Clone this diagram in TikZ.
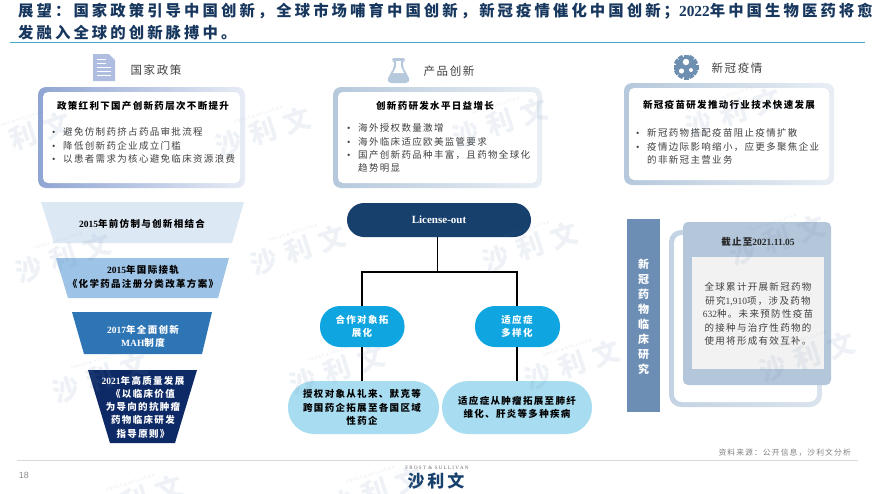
\documentclass[tikz,border=0pt]{standalone}
\usepackage{fontspec}
\setmainfont{Noto Sans CJK SC}[LetterSpace=14]
\newfontfamily\titlefont{Noto Sans CJK SC}[LetterSpace=20]
\newfontfamily\latinfont{Liberation Serif}
\newfontfamily\arialfont{Liberation Sans}
\newcommand{\lat}[1]{{\latinfont\bfseries #1}}
\newcommand{\bul}{\makebox[11pt][l]{\latinfont •}}
\newcommand{\nob}{\hspace*{11pt}}
\newcommand{\cma}{\char"FF0C }
\newcommand{\cln}{\char"FF1A }
\newcommand{\scn}{\char"FF1B }
\definecolor{titleblue}{HTML}{17375E}
\definecolor{ruleblue}{HTML}{45ABCB}
\definecolor{navybox}{HTML}{17406D}
\definecolor{skybox}{HTML}{0EA5E0}
\definecolor{paleblue}{HTML}{A8DCF0}
\definecolor{steelbar}{HTML}{6C8EB4}
\definecolor{cardblue}{HTML}{B4C6D9}
\definecolor{bodygray}{HTML}{404040}
\definecolor{docblue}{HTML}{AFBEE0}
\definecolor{framedeep}{HTML}{8FA5D3}
\definecolor{flaskblue}{HTML}{B5C8DC}
\definecolor{gearblue}{HTML}{6F8FB0}
\usetikzlibrary{positioning}
\tikzset{
    headline/.style={font=\fontsize{15.37}{18}\selectfont\bfseries\titlefont,text=titleblue,anchor=west,inner sep=0pt},
    iconlabel/.style={font=\fontsize{11.5}{13}\selectfont,text=bodygray,inner sep=0pt},
    boxhead/.style={font=\fontsize{9.5}{12}\selectfont\bfseries,text=black,inner sep=0pt},
    bullets/.style={font=\fontsize{9.5}{13.3}\selectfont,text=bodygray,align=left,anchor=north west,inner sep=0pt},
    steptext/.style={font=\fontsize{9.5}{13.3}\selectfont\bfseries,align=center,inner sep=0pt},
    pill/.style={rounded corners=#1,inner sep=0pt},
    link/.style={draw=black,line width=1.2pt},
    watermark/.style={font=\fontsize{27}{27}\selectfont\bfseries,text=steelbar,opacity=0.11,rotate=18,inner sep=0pt},
    wmsmall/.style={font=\fontsize{4}{5}\selectfont\latinfont,text=steelbar,opacity=0.22,rotate=18,inner sep=0pt}
}
\begin{document}
\begin{tikzpicture}[x=1pt,y=-1pt]
\useasboundingbox[fill=white] (0,0) rectangle (875,493);
% title
\node[headline] (title1) at (18,11) {展望\cln 国家政策引导中国创新\cma 全球市场哺育中国创新\cma 新冠疫情催化中国创新\scn \lat{2022}年中国生物医药将愈};
\node[headline] (title2) at (18,33) {发融入全球的创新脉搏中。};
\draw[ruleblue,line width=1pt] (10,42) -- (865,42);
% footer
\draw[black!15,line width=0.8pt] (17,460) -- (858,460);
\node[font=\fontsize{9}{10}\selectfont\arialfont,text=black!45,inner sep=0pt] (pageno) at (24,475) {18};
\node[font=\fontsize{7.8}{9}\selectfont,text=black!50,anchor=east,inner sep=0pt] (source) at (851,453) {资料来源\cln 公开信息\cma 沙利文分析};
\node[font=\fontsize{5}{6}\selectfont\latinfont,text=black!60,inner sep=0pt] (frost) at (437,468) {F R O S T \ \& \ S U L L I V A N};
\node[font=\fontsize{17}{18}\selectfont\bfseries,text=navybox,inner sep=0pt] (brand) at (436,481) {沙\,利\,文};
% frames of the three columns
\foreach \xa/\xb/\ya/\yb/\cola/\colb in {38/245/87/188/framedeep/docblue!30,
        333/542/87/188/flaskblue/flaskblue!30,624/834/83/185/flaskblue/flaskblue!30}
{
    \path[left color=\cola,right color=\colb,rounded corners=8pt] (\xa,\ya) rectangle (\xb,\yb);
    \fill[white,rounded corners=5pt] (\xa+5,\ya+5) rectangle (\xb-5,\yb-5);
}
% document icon
\fill[docblue] (93,54) -- (109,54) -- (115,60) -- (115,81) -- (93,81) -- cycle;
\foreach \y/\xe in {59/106,63/106,67/111,71/111,75/111}
    \draw[white,line width=1pt] (97,\y) -- (\xe,\y);
% flask icon
\fill[flaskblue,rounded corners=2pt] (392,58) -- (405,58) -- (405,61) -- (403,61) -- (403,67) -- (410,80) -- (408,83) -- (389,83) -- (387,80) -- (394,67) -- (394,61) -- (392,61) -- cycle;
\fill[white] (396,61) rectangle (401,68);
\fill[white] (396,67) -- (401,67) -- (404,73) -- (393,73) -- cycle;
% gear icon
\foreach \a in {0,30,...,330}
    \fill[gearblue,rotate around={\a:(686,67)}] (683.5,67) rectangle (688.5,54.5);
\fill[gearblue] (686,67) circle (10.5);
\foreach \hx/\hy/\hr in {686/62/3.2,681.5/71/2.6,691/70/2}
    \fill[white] (\hx,\hy) circle (\hr);
\node[iconlabel] (policy) at (156,70) {国家政策};
\node[iconlabel] (product) at (449,71) {产品创新};
\node[iconlabel] (covid) at (737,68) {新冠疫情};
% column texts
\node[boxhead] (policyhead) at (143,106) {政策红利下国产创新药层次不断提升};
\node[bullets] (policylist) at (52,127.5) {\bul 避免仿制药挤占药品审批流程\\\bul 降低创新药企业成立门槛\\\bul 以患者需求为核心避免临床资源浪费};
\node[boxhead] (producthead) at (435,106) {创新药研发水平日益增长};
\node[bullets] (productlist) at (347,123.5) {\bul 海外授权数量激增\\\bul 海外临床适应欧美监管要求\\\bul 国产创新药品种丰富\cma 且药物全球化\\\nob 趋势明显};
\node[boxhead] (covidhead) at (729,105) {新冠疫苗研发推动行业技术快速发展};
\node[bullets] (covidlist) at (636,128.5) {\bul 新冠药物搭配疫苗阻止疫情扩散\\\bul 疫情边际影响缩小\cma 应更多聚焦企业\\\nob 的非新冠主营业务};
% funnel
\foreach \ya/\yb/\xa/\xb/\xc/\xd/\col in {202/243/41/244/232/54/DDE8F5,258/298/56/229/218/68/9DC3E6,
        312/354/72/212/202/84/2E75B6,370/443/88/197/175/110/0E2A66}
{
    \definecolor{stepfill}{HTML}{\col}
    \fill[stepfill] (\xa,\ya) -- (\xb,\ya) -- (\xc,\yb) -- (\xd,\yb) -- cycle;
}
\node[steptext,text=black] (step1) at (142,224) {\lat{2015}年前仿制与创新相结合};
\node[steptext,text=black] (step2) at (143,277) {\lat{2015}年国际接轨\\《化学药品注册分类改革方案》};
\node[steptext,text=white] (step3) at (143,336) {\lat{2017}年全面创新\\\lat{MAH}制度};
\node[steptext,text=white] (step4) at (143,407) {\lat{2021}年高质量发展\\《以临床价值\\为导向的抗肿瘤\\药物临床研发\\指导原则》};
% license-out tree
\path[pill=17pt,fill=navybox] (347,203) rectangle (531,237);
\node[steptext,text=white,minimum width=184pt,minimum height=34pt,font=\fontsize{11}{13}\selectfont] (license) at (439,220) {\lat{License-out}};
\path[pill=20pt,fill=skybox] (320,306) rectangle (404.5,347);
\node[steptext,text=white,minimum width=84pt,minimum height=41pt] (partner) at (362,326.5) {合作对象拓\\展化};
\path[pill=20pt,fill=skybox] (475,306) rectangle (560,347);
\node[steptext,text=white,minimum width=85pt,minimum height=41pt] (indication) at (517,326.5) {适应症\\多样化};
\path[pill=26pt,fill=paleblue] (288,381) rectangle (439,434);
\node[steptext,text=black,minimum width=151pt,minimum height=53pt] (partnernote) at (362,407.5) {授权对象从礼来、默克等\\跨国药企拓展至各国区域\\性药企};
\path[pill=26pt,fill=paleblue] (442,381) rectangle (592,434);
\node[steptext,text=black,minimum width=150pt,minimum height=53pt] (indicationnote) at (517,407.5) {适应症从肿瘤拓展至肺纤\\维化、肝炎等多种疾病};
\coordinate (fork) at (437.5,272);
\draw[link] (fork|-license.south) -- (fork);
\draw[link] (fork) -| (partner.north);
\draw[link] (fork) -| (indication.north);
\draw[link] (partner.south) -- (partnernote.north);
\draw[link] (indication.south) -- (indicationnote.north);
% right column
\fill[steelbar] (627,219) rectangle (660,412);
\node[font=\fontsize{11}{15}\selectfont\bfseries,text=white,align=center,inner sep=0pt] (bar) at (643.5,317) {新\\冠\\药\\物\\临\\床\\研\\究};
\path[left color=flaskblue!80,right color=flaskblue!50,rounded corners=12pt] (669,230) rectangle (822,407);
\fill[white,rounded corners=8pt] (674,235) rectangle (817,402);
\fill[cardblue,rounded corners=5pt] (683,222) rectangle (831,385);
\fill[black!5] (692,257) rectangle (824,369);
\node[steptext,text=black!85] (cardhead) at (758,242) {截止至\lat{2021.11.05}};
\node[font=\fontsize{9.5}{13.5}\selectfont,text=bodygray,align=center,inner sep=0pt] (cardtext) at (758,314) {全球累计开展新冠药物\\研究{\latinfont 1,910}项\cma 涉及药物\\{\latinfont 632}种。未来预防性疫苗\\的接种与治疗性药物的\\使用将形成有效互补。};
% watermarks
\begin{scope}
\clip (0,0) rectangle (875,493);
\foreach \wx/\wy [count=\i] in {23/137,263/132,500/123,733/113,63/258,298/250,530/247,777/240,100/378,337/370,572/365,807/357,135/500,375/492}
{
    \node[watermark] (wm\i) at (\wx,\wy) {沙\,\,利\,\,文};
    \node[wmsmall,above=3pt of wm\i.north,anchor=south] (wmf\i) {F R O S T \ \& \ S U L L I V A N};
}
\end{scope}
\end{tikzpicture}
\end{document}
